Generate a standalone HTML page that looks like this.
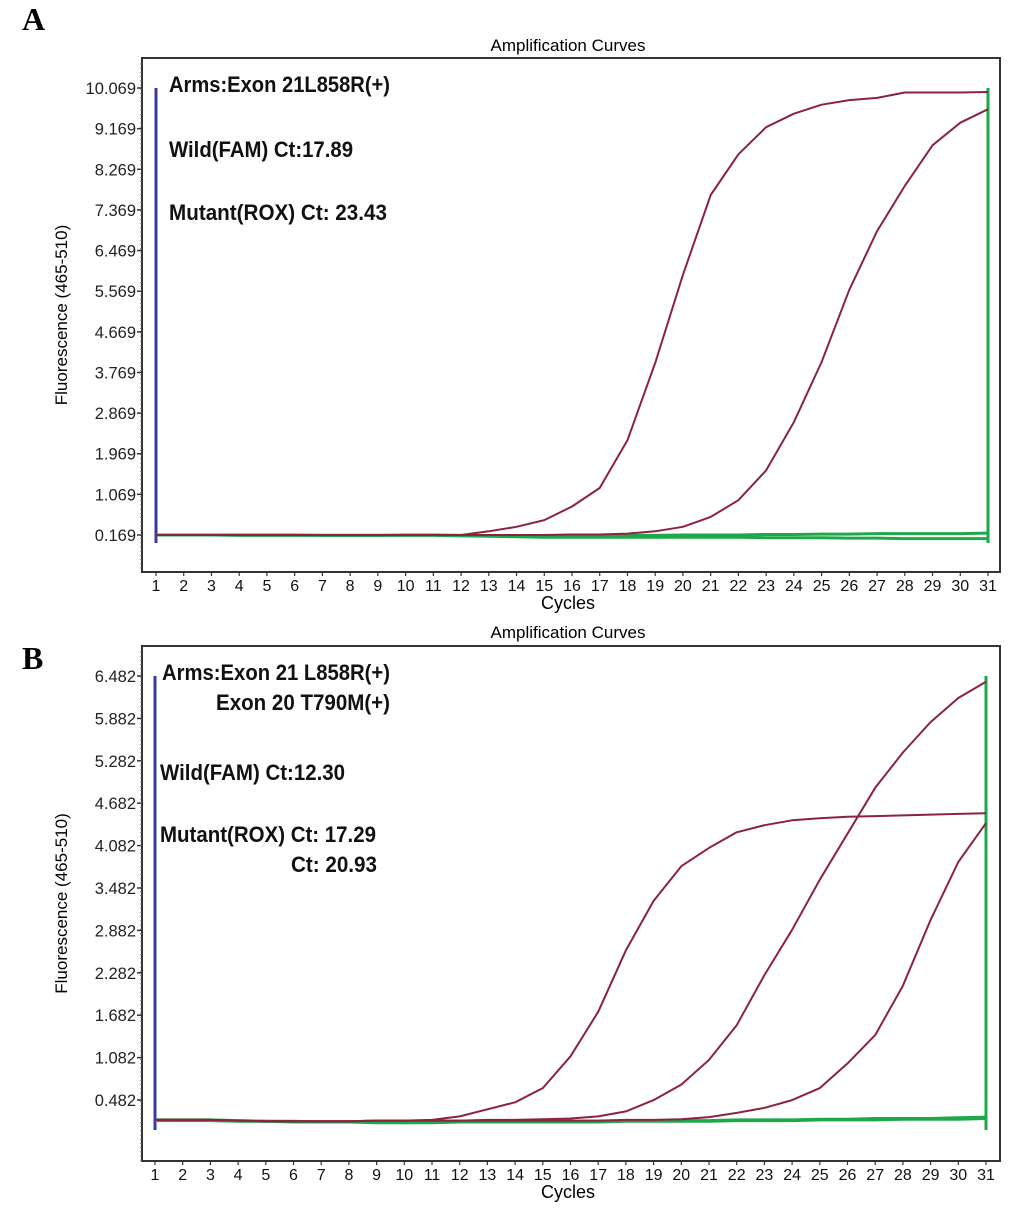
<!DOCTYPE html>
<html><head><meta charset="utf-8"><style>
html,body{margin:0;padding:0;background:#fff;}
svg{display:block;font-family:"Liberation Sans",Arial,sans-serif;}
</style></head><body>
<svg id="chart" width="1033" height="1212" viewBox="0 0 1033 1212" xmlns="http://www.w3.org/2000/svg">
<text x="22" y="30" font-family="Liberation Serif,serif" font-weight="bold" font-size="32">A</text>
<text x="22" y="669" font-family="Liberation Serif,serif" font-weight="bold" font-size="32">B</text>
</svg>
<script>
const cycles = [1,2,3,4,5,6,7,8,9,10,11,12,13,14,15,16,17,18,19,20,21,22,23,24,25,26,27,28,29,30,31];
const aTicks = ["0.169","1.069","1.969","2.869","3.769","4.669","5.569","6.469","7.369","8.269","9.169","10.069"];
const aWild = [0.17,0.17,0.17,0.17,0.17,0.17,0.17,0.17,0.17,0.17,0.17,0.17,0.25,0.35,0.5,0.8,1.21,2.27,3.98,5.93,7.7,8.6,9.2,9.5,9.7,9.8,9.85,9.97,9.97,9.97,9.98];
const aMut = [0.17,0.17,0.17,0.17,0.17,0.17,0.17,0.17,0.17,0.17,0.17,0.17,0.17,0.17,0.17,0.18,0.18,0.2,0.25,0.35,0.57,0.94,1.6,2.67,4.0,5.6,6.9,7.9,8.8,9.3,9.6];
const aGreen1 = [0.17,0.17,0.17,0.16,0.16,0.16,0.16,0.16,0.16,0.17,0.17,0.16,0.15,0.14,0.14,0.14,0.15,0.16,0.16,0.17,0.17,0.17,0.18,0.18,0.19,0.19,0.2,0.2,0.2,0.2,0.21];
const aGreen2 = [0.17,0.17,0.17,0.17,0.17,0.17,0.16,0.16,0.16,0.16,0.16,0.15,0.14,0.13,0.12,0.12,0.12,0.12,0.12,0.12,0.12,0.12,0.11,0.11,0.11,0.1,0.1,0.09,0.09,0.09,0.09];
const bTicks = ["0.482","1.082","1.682","2.282","2.882","3.482","4.082","4.682","5.282","5.882","6.482"];
const bWild = [0.2,0.2,0.2,0.19,0.18,0.18,0.18,0.18,0.19,0.19,0.2,0.25,0.35,0.45,0.65,1.1,1.73,2.6,3.3,3.79,4.05,4.27,4.37,4.44,4.47,4.49,4.5,4.51,4.52,4.53,4.54];
const bMut1 = [0.2,0.2,0.2,0.19,0.18,0.18,0.18,0.18,0.19,0.19,0.19,0.19,0.2,0.2,0.21,0.22,0.25,0.32,0.48,0.7,1.05,1.54,2.25,2.89,3.6,4.25,4.9,5.4,5.83,6.17,6.4];
const bMut2 = [0.2,0.2,0.2,0.19,0.18,0.18,0.18,0.18,0.19,0.19,0.19,0.19,0.19,0.19,0.19,0.19,0.19,0.2,0.2,0.21,0.24,0.3,0.37,0.48,0.65,1.0,1.4,2.1,3.03,3.85,4.4];
const bGreen1 = [0.2,0.2,0.2,0.19,0.18,0.18,0.17,0.17,0.17,0.16,0.17,0.18,0.18,0.18,0.18,0.18,0.18,0.19,0.19,0.19,0.19,0.2,0.2,0.2,0.21,0.21,0.22,0.22,0.22,0.23,0.24];
const bGreen2 = [0.19,0.19,0.19,0.18,0.18,0.17,0.17,0.17,0.16,0.16,0.16,0.17,0.17,0.17,0.17,0.17,0.17,0.18,0.18,0.18,0.18,0.19,0.19,0.19,0.2,0.2,0.2,0.21,0.21,0.21,0.22];

const NS = "http://www.w3.org/2000/svg";
const svg = document.getElementById('chart');
function mk(tag, attrs, parent, txt){const e=document.createElementNS(NS,tag);for(const k in attrs)e.setAttribute(k,attrs[k]);if(txt!==undefined)e.textContent=txt;(parent||svg).appendChild(e);return e;}

function panel(cfg){
  const g = mk('g',{});
  
  
  const x = c => cfg.x1 + (c-1)*(cfg.x31-cfg.x1)/30;
  const y = v => cfg.yTop + (cfg.vTop - v)*(cfg.yBot-cfg.yTop)/(cfg.vTop-cfg.vBot);
  const t = mk('text',{x:568,y:cfg.titleY,'text-anchor':'middle','font-size':17},g,'Amplification Curves');
  
  
  const fr = mk('rect',{x:142,y:cfg.fTop,width:858,height:cfg.fBot-cfg.fTop,fill:'none',stroke:'#333','stroke-width':2},g);
  
  
  cfg.ticks.forEach(s=>{
    const v=parseFloat(s), yy=y(v);
    mk('line',{x1:137,x2:142,y1:yy,y2:yy,stroke:'#333','stroke-width':1.5},g);
    const tl = mk('text',{x:136,y:yy+6,'text-anchor':'end','font-size':16.5,fill:'#222'},g,s);
    
    
  });
  for(let yy=cfg.fTop+6; yy<cfg.fBot; yy+=4.2){ mk('line',{x1:140,x2:142,y1:yy,y2:yy,stroke:'#666','stroke-width':0.8},g); }
  cycles.forEach(c=>{
    const xx=x(c);
    mk('line',{x1:xx,x2:xx,y1:cfg.fBot,y2:cfg.fBot+4,stroke:'#333','stroke-width':1.2},g);
    const tl = mk('text',{x:xx,y:cfg.fBot+19,'text-anchor':'middle','font-size':16,fill:'#111'},g,String(c));
    
    
  });
  const xt = mk('text',{x:568,y:cfg.fBot+37,'text-anchor':'middle','font-size':18},g,'Cycles');
  
  
  const cy=(cfg.fTop+cfg.fBot)/2;
  const yt = mk('text',{x:0,y:0,'text-anchor':'middle','font-size':17,transform:`translate(67,${cy}) rotate(-90)`},g,'Fluorescence (465-510)');
  
  
  const bl = mk('line',{x1:x(1),x2:x(1),y1:cfg.yTop,y2:cfg.lineBot,stroke:'#3a3aa0','stroke-width':3},g);
  
  
  const gl = mk('line',{x1:x(31),x2:x(31),y1:cfg.yTop,y2:cfg.lineBot,stroke:'#1aa84a','stroke-width':3},g);
  
  
  const path = arr => arr.map((v,i)=>(i?'L':'M')+x(cycles[i]).toFixed(1)+','+y(v).toFixed(1)).join(' ');
  cfg.greens.forEach((arr,i)=>{
    const p = mk('path',{d:path(arr),fill:'none',stroke:'#1fa84a','stroke-width':3},g);
    
    
  });
  cfg.reds.forEach((arr,i)=>{
    const p = mk('path',{d:path(arr),fill:'none',stroke:'#8b2340','stroke-width':2,'stroke-linejoin':'round'},g);
    
    
  });
  cfg.notes.forEach(n=>{
    const tx = mk('text',{x:n[0],y:n[1],'font-size':22,'font-weight':'bold',textLength:n[2]-n[0],lengthAdjust:'spacingAndGlyphs',fill:'#111'},g,n[3]);
    
    
  });
}

panel({name:'panel-a-chart',x1:156,x31:988,yTop:88,yBot:535,vTop:10.069,vBot:0.169,fTop:58,fBot:572,titleY:51,lineBot:543,
  ticks:aTicks,greens:[aGreen1,aGreen2],reds:[aWild,aMut],redNames:['wild-curve','mutant-curve'],
  notes:[[169,92,390,'Arms:Exon 21L858R(+)'],[169,157,353,'Wild(FAM) Ct:17.89'],[169,220,387,'Mutant(ROX) Ct: 23.43']]});
panel({name:'panel-b-chart',x1:155,x31:986,yTop:676,yBot:1100,vTop:6.482,vBot:0.482,fTop:646,fBot:1161,titleY:638,lineBot:1130,
  ticks:bTicks,greens:[bGreen1,bGreen2],reds:[bWild,bMut1,bMut2],redNames:['wild-curve','mutant-curve-1','mutant-curve-2'],
  notes:[[162,680,390,'Arms:Exon 21 L858R(+)'],[216,710,390,'Exon 20 T790M(+)'],[160,780,345,'Wild(FAM) Ct:12.30'],[160,842,376,'Mutant(ROX) Ct: 17.29'],[291,872,377,'Ct: 20.93']]});
</script>
</body></html>
